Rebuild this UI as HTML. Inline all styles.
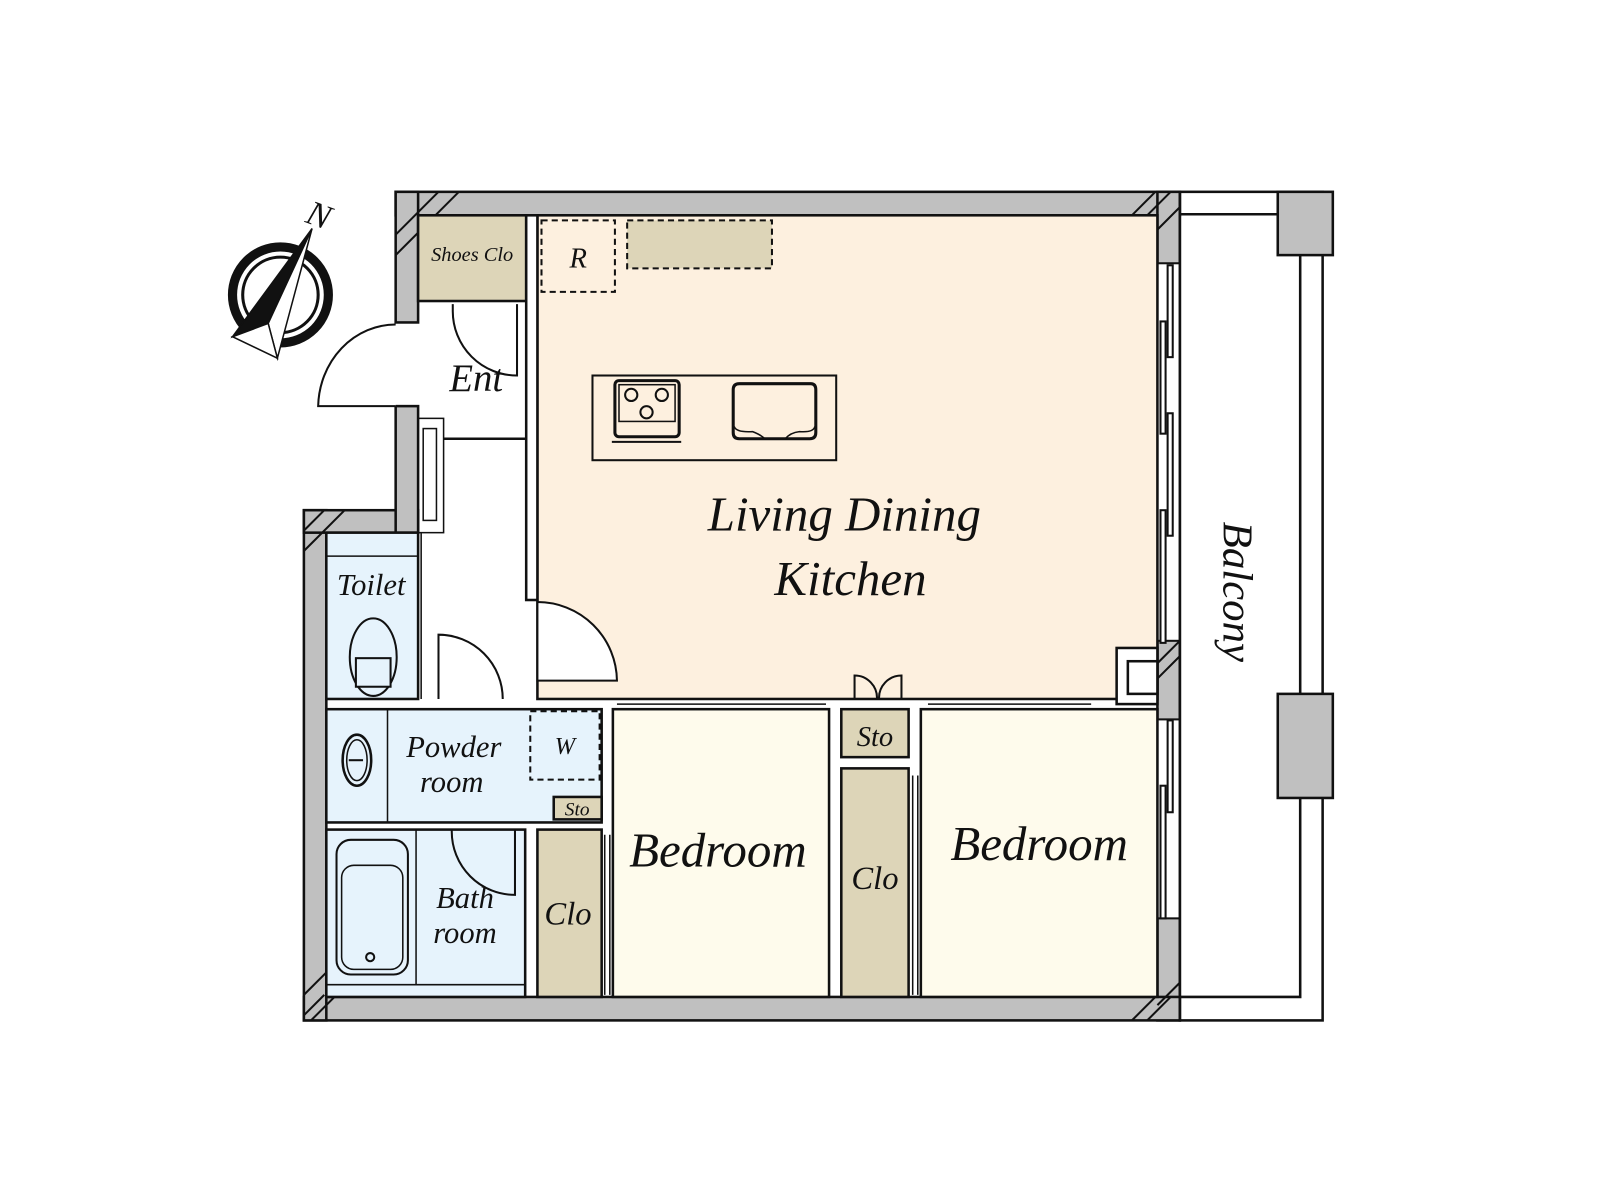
<!DOCTYPE html>
<html><head><meta charset="utf-8"><style>
html,body{margin:0;padding:0;background:#fff;}
svg{display:block}
text{font-family:"Liberation Serif",serif;font-style:italic;fill:#111}
</style></head><body>
<svg width="1600" height="1200" viewBox="0 0 1569 1176" preserveAspectRatio="none" xmlns="http://www.w3.org/2000/svg">
<rect x="0" y="0" width="1569" height="1176" fill="#fff"/>
<g stroke="#111" stroke-width="2.5" fill="#c0c0c0">
 <!-- walls -->
 <rect x="388" y="188" width="769" height="23"/>
 <rect x="1135" y="188" width="22" height="812"/>
 <rect x="298" y="977" width="859" height="23"/>
 <rect x="298" y="500" width="22" height="500"/>
 <rect x="298" y="500" width="112" height="22"/>
 <rect x="388" y="188" width="22" height="128"/>
 <rect x="388" y="398" width="22" height="124"/>
</g>
<!-- hatch corners -->
<g stroke="#111" stroke-width="2">
 <line x1="388" y1="230" x2="430" y2="188"/><line x1="388" y1="250" x2="450" y2="188"/>
 <line x1="298" y1="540" x2="338" y2="500"/><line x1="298" y1="520" x2="318" y2="500"/>
 <line x1="298" y1="995" x2="318" y2="975"/><line x1="298" y1="975" x2="320" y2="953"/><line x1="305" y1="1000" x2="328" y2="977"/>
 <line x1="1110" y1="211" x2="1133" y2="188"/><line x1="1125" y1="211" x2="1148" y2="188"/><line x1="1135" y1="225" x2="1157" y2="203"/>
 <line x1="1110" y1="1000" x2="1133" y2="977"/><line x1="1125" y1="1000" x2="1148" y2="977"/><line x1="1135" y1="985" x2="1157" y2="963"/>
 <line x1="1135" y1="650" x2="1157" y2="628"/><line x1="1135" y1="665" x2="1157" y2="643"/>
</g>
<!-- window openings on right wall -->
<g stroke="#111" stroke-width="2" fill="#fff">
 <rect x="1135" y="258" width="22" height="370"/>
 <rect x="1135" y="705" width="22" height="195"/>
 <rect x="1145" y="260" width="5" height="90" fill="#fff"/>
 <rect x="1138" y="315" width="5" height="110"/>
 <rect x="1145" y="405" width="5" height="120"/>
 <rect x="1138" y="500" width="5" height="130"/>
 <rect x="1145" y="706" width="5" height="90"/>
 <rect x="1138" y="770" width="5" height="130"/>
</g>
<!-- balcony -->
<g stroke="#111" stroke-width="2.5" fill="none">
 <rect x="1157" y="188" width="140" height="812"/>
 <polyline points="1157,210 1275,210 1275,977 1157,977"/>
</g>
<g stroke="#111" stroke-width="2.5" fill="#c0c0c0">
 <rect x="1253" y="188" width="54" height="62"/>
 <rect x="1253" y="680" width="54" height="102"/>
</g>
<text x="0" y="0" font-size="42" text-anchor="middle" transform="translate(1200,580) rotate(90)">Balcony</text>

<!-- rooms -->
<g stroke="#111" stroke-width="2.5">
 <rect x="527" y="211" width="608" height="474" fill="#fdf0df"/>
 <rect x="1095" y="635" width="40" height="55" fill="#fff"/>
 <rect x="1106" y="648" width="29" height="32" fill="#fff"/>
 <rect x="410" y="211" width="106" height="84" fill="#ddd5b8"/>
 <rect x="516" y="211" width="11" height="377" fill="#fff"/>
 <rect x="320" y="522" width="90" height="163" fill="#e6f3fc"/>
 <rect x="320" y="695" width="270" height="111" fill="#e6f3fc"/>
 <rect x="320" y="813" width="195" height="164" fill="#e6f3fc"/>
 <rect x="527" y="813" width="63" height="164" fill="#ddd5b8"/>
 <rect x="601" y="695" width="212" height="282" fill="#fefbec"/>
 <rect x="825" y="695" width="66" height="47" fill="#ddd5b8"/>
 <rect x="825" y="753" width="66" height="224" fill="#ddd5b8"/>
 <rect x="903" y="695" width="232" height="282" fill="#fefbec"/>
 <rect x="543" y="781" width="47" height="22" fill="#ddd5b8"/>
</g>
<g stroke="#111" stroke-width="1.5" fill="none">
 <line x1="320" y1="545" x2="410" y2="545"/>
 <line x1="380" y1="695" x2="380" y2="806"/>
 <line x1="408" y1="813" x2="408" y2="965"/>
 <line x1="320" y1="965" x2="515" y2="965"/>
 <rect x="410" y="410" width="25" height="112"/>
 <rect x="415" y="420" width="13" height="90"/>
 <line x1="435" y1="430" x2="516" y2="430" stroke-width="2.5"/>
 <line x1="413" y1="522" x2="413" y2="685"/>
 <line x1="593" y1="818" x2="593" y2="975"/><line x1="598" y1="818" x2="598" y2="975"/>
 <line x1="895" y1="760" x2="895" y2="975"/><line x1="900" y1="760" x2="900" y2="975"/>
 <line x1="605" y1="690" x2="810" y2="690"/>
 <line x1="910" y1="690" x2="1070" y2="690"/>
</g>
<!-- dashed boxes -->
<g stroke="#111" stroke-width="2" stroke-dasharray="6,4">
 <rect x="531" y="216" width="72" height="70" fill="none"/>
 <rect x="615" y="216" width="142" height="47" fill="#ddd5b8"/>
 <rect x="520" y="697" width="68" height="67" fill="none"/>
</g>
<!-- kitchen island -->
<g stroke="#111" fill="none">
 <rect x="581" y="368" width="239" height="83" stroke-width="2"/>
 <rect x="603" y="373" width="63" height="55" rx="4" stroke-width="3"/>
 <rect x="607" y="377" width="55" height="36" stroke-width="1.5"/>
 <circle cx="619" cy="387" r="6" stroke-width="2"/><circle cx="649" cy="387" r="6" stroke-width="2"/><circle cx="634" cy="404" r="6" stroke-width="2"/>
 <line x1="600" y1="433" x2="668" y2="433" stroke-width="2"/>
 <path d="M725,376 H795 Q800,376 800,382 V424 Q800,430 794,430 H725 Q719,430 719,424 V382 Q719,376 725,376 Z" stroke-width="3"/>
 <path d="M720,418 Q722,424 738,423 Q746,426 750,430 H770 Q775,424 784,423 Q798,424 799,418" stroke-width="1.5"/>
</g>
<!-- doors -->
<g stroke="#111" stroke-width="2" fill="#fff">
 <path d="M388,398 L312,398 A76,82 0 0 1 388,318" />
 <path d="M444,298 L444,305 A63,63 0 0 0 507,368 L507,298" fill="none"/>
 <path d="M527,590 L527,667 L605,667 A78,78 0 0 0 527,590 Z"/>
 <path d="M430,685 L430,622 A63,63 0 0 1 493,685"/>
 <path d="M443,813 L443,815 A62,62 0 0 0 505,877 L505,813" fill="none"/>
 <path d="M838,685 L838,662 A22,22 0 0 1 860,685 M884,685 L884,662 A22,22 0 0 0 862,685" fill="none"/>
</g>
<!-- toilet, sink, tub -->
<g stroke="#111" stroke-width="2" fill="none">
 <ellipse cx="366" cy="644" rx="23" ry="38"/>
 <rect x="349" y="645" width="34" height="28" fill="#e6f3fc"/>
 <ellipse cx="350" cy="745" rx="14" ry="25" stroke-width="2.5"/>
 <ellipse cx="350" cy="745" rx="10" ry="20" stroke-width="1.5"/>
 <line x1="342" y1="745" x2="356" y2="745"/>
 <rect x="330" y="823" width="70" height="132" rx="14"/>
 <rect x="335" y="848" width="60" height="102" rx="12" stroke-width="1.5"/>
 <circle cx="363" cy="938" r="4"/>
</g>
<!-- compass -->
<g>
 <circle cx="275" cy="289" r="47" fill="none" stroke="#111" stroke-width="9"/>
 <circle cx="275" cy="289" r="37" fill="none" stroke="#111" stroke-width="3"/>
 <polygon points="306,224 228,330 263,317" fill="#111" stroke="#111" stroke-width="1.5"/>
 <polygon points="306,224 263,317 272,351" fill="#fff" stroke="#111" stroke-width="1.5"/>
 <polygon points="228,330 263,317 272,351" fill="#fff" stroke="#111" stroke-width="1.5"/>
 <text x="313" y="222" font-size="34" text-anchor="middle" transform="rotate(20 313 210)">N</text>
</g>
<!-- labels -->
<text x="463" y="256" font-size="20" text-anchor="middle">Shoes Clo</text>
<text x="567" y="262" font-size="28" text-anchor="middle">R</text>
<text x="467" y="383" font-size="38" text-anchor="middle">Ent</text>
<text x="828" y="520" font-size="48" text-anchor="middle">Living Dining</text>
<text x="834" y="583" font-size="48" text-anchor="middle">Kitchen</text>
<text x="364" y="583" font-size="30" text-anchor="middle">Toilet</text>
<text x="445" y="742" font-size="30" text-anchor="middle">Powder</text>
<text x="443" y="776" font-size="30" text-anchor="middle">room</text>
<text x="554" y="739" font-size="24" text-anchor="middle">W</text>
<text x="566" y="799" font-size="19" text-anchor="middle">Sto</text>
<text x="456" y="890" font-size="30" text-anchor="middle">Bath</text>
<text x="456" y="924" font-size="30" text-anchor="middle">room</text>
<text x="557" y="906" font-size="32" text-anchor="middle">Clo</text>
<text x="704" y="849" font-size="48" text-anchor="middle">Bedroom</text>
<text x="858" y="731" font-size="28" text-anchor="middle">Sto</text>
<text x="858" y="871" font-size="32" text-anchor="middle">Clo</text>
<text x="1019" y="843" font-size="48" text-anchor="middle">Bedroom</text>
</svg>
</body></html>
